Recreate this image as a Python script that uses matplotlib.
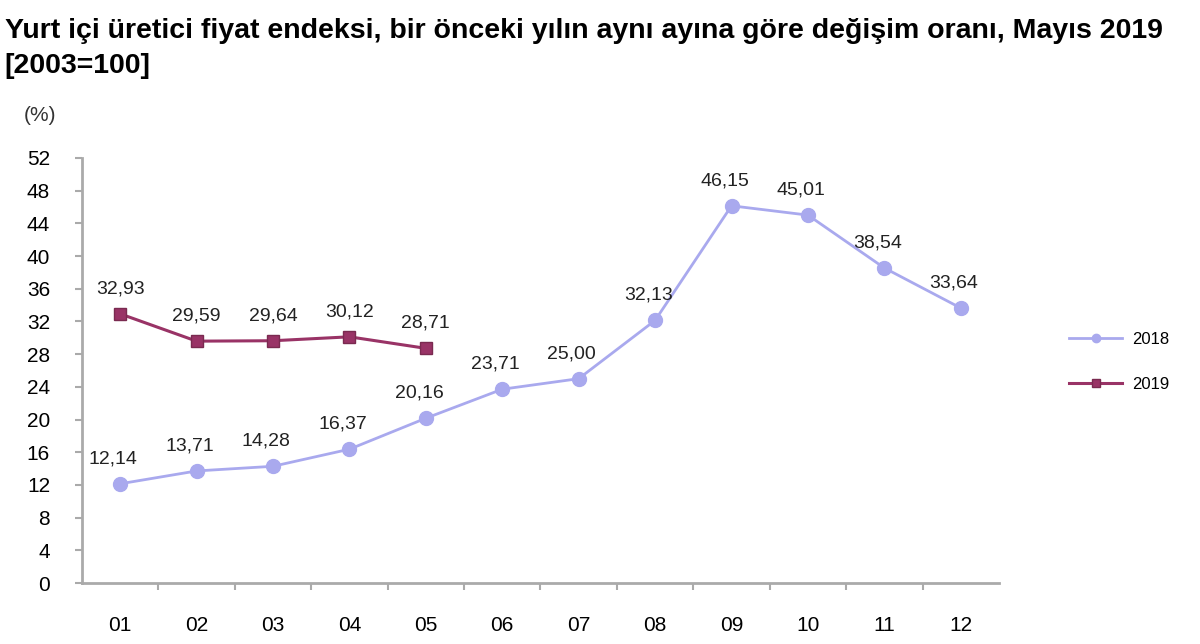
import matplotlib.pyplot as plt
import numpy as np

plt.rcParams['font.family'] = ['Liberation Sans', 'DejaVu Sans']

# data
months = ['01', '02', '03', '04', '05', '06', '07', '08', '09', '10', '11', '12']
vals_2018 = [12.14, 13.71, 14.28, 16.37, 20.16, 23.71, 25.00, 32.13, 46.15, 45.01, 38.54, 33.64]
vals_2019 = [32.93, 29.59, 29.64, 30.12, 28.71]
yticks = list(range(0, 53, 4))

fig = plt.figure(figsize=(12, 6.44), dpi=100)
ax = fig.add_axes([0.0683, 0.0947, 0.7642, 0.66])

x = np.arange(len(months))
c18 = '#a9a9ee'
c19 = '#993366'

ax.plot(x, vals_2018, color=c18, lw=2, marker='o', ms=10, label='2018')
ax.plot(x[:len(vals_2019)], vals_2019, color=c19, lw=2.2, marker='s', ms=9,
        markeredgecolor='#7a2a50', label='2019')

def fmt(v):
    return f'{v:.2f}'.replace('.', ',')

for xi, v in zip(x, vals_2018):
    ax.annotate(fmt(v), (xi, v), xytext=(-5, 12), textcoords='offset points',
                ha='center', va='bottom', fontsize=14, color='#222222')
for xi, v in zip(x, vals_2019):
    ax.annotate(fmt(v), (xi, v), xytext=(0, 12), textcoords='offset points',
                ha='center', va='bottom', fontsize=14, color='#222222')

ax.set_xlim(-0.5, 11.5)
ax.set_ylim(0, 52)
ax.set_yticks(yticks)
ax.set_xticks(x)
ax.set_xticklabels(months)
ax.set_xticks(np.arange(0.5, 11.5, 1), minor=True)
ax.tick_params(axis='x', which='major', length=0, pad=24, labelsize=15)
ax.tick_params(axis='x', which='minor', length=5, color='#aaaaaa', width=1.5)
ax.tick_params(axis='y', length=5, color='#aaaaaa', width=1.5, labelsize=15, pad=18)

for s in ['top', 'right']:
    ax.spines[s].set_visible(False)
for s in ['left', 'bottom']:
    ax.spines[s].set_color('#aaaaaa')
    ax.spines[s].set_linewidth(2)

fig.text(0.004, 0.952, 'Yurt içi üretici fiyat endeksi, bir önceki yılın aynı ayına göre değişim oranı, Mayıs 2019',
         fontsize=20.5, fontweight='bold', va='center', ha='left')
fig.text(0.004, 0.897, '[2003=100]', fontsize=20.5, fontweight='bold', va='center', ha='left')
fig.text(0.02, 0.82, '(%)', fontsize=15, va='center', ha='left', color='#333333')

ax.legend(loc='center left', bbox_to_anchor=(1.06, 0.52), frameon=False,
          fontsize=12, handlelength=3.2, handletextpad=0.6, labelspacing=1.8, markerscale=0.6)

fig.savefig('out.png', dpi=100)
